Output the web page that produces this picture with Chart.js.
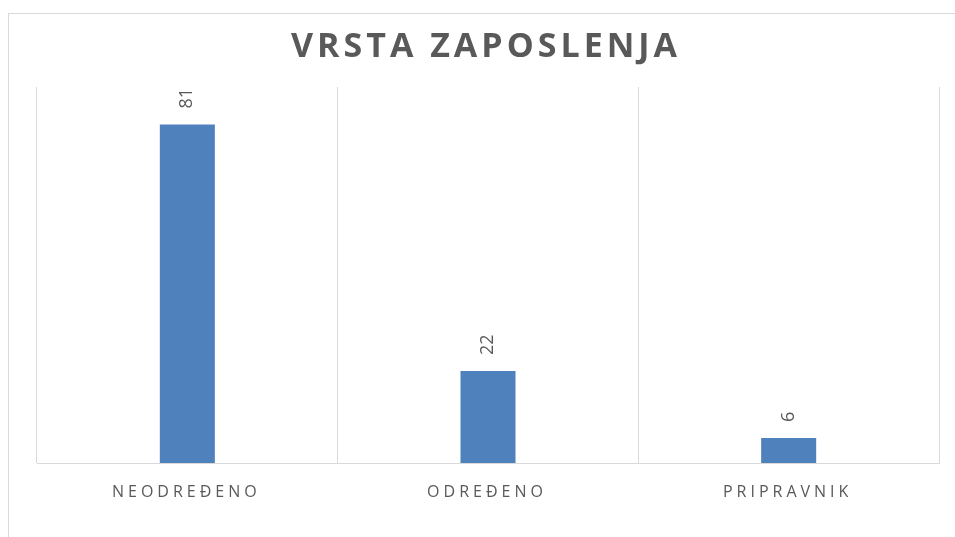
<!DOCTYPE html>
<html>
<head>
<meta charset="utf-8">
<script src="https://cdn.jsdelivr.net/npm/chart.js@4.4.1/dist/chart.umd.min.js"></script>
<style>
  html, body { margin: 0; padding: 0; background: #fff; overflow: hidden; }
  #canvas { display: block; }
</style>
</head>
<body>
<canvas id="canvas" width="955" height="537"></canvas>
<script>
// chart data
const title = "VRSTA ZAPOSLENJA";
const categories = ["NEODREĐENO", "ODREĐENO", "PRIPRAVNIK"];
const counts = [81, 22, 6];
const yMax = 90;

const textGray = "#595959";
const gridGray = "#d9d9d9";

// draws the frame, title, rotated value labels and spaced category labels
const decorations = {
  id: "decorations",
  beforeDraw(chart) {
    const ctx = chart.ctx;
    ctx.save();
    ctx.strokeStyle = gridGray;
    ctx.lineWidth = 1;
    ctx.strokeRect(8.5, 13.5, 1000, 1000);
    ctx.restore();
  },
  afterDatasetsDraw(chart) {
    const ctx = chart.ctx;
    const meta = chart.getDatasetMeta(0);
    const xs = chart.scales.x;

    ctx.save();
    ctx.fillStyle = textGray;

    // title
    ctx.font = "bold 34px 'Open Sans'";
    ctx.letterSpacing = "4px";
    ctx.textAlign = "center";
    ctx.textBaseline = "alphabetic";
    ctx.fillText(title, (chart.chartArea.left + chart.chartArea.right) / 2 - 2, 57);

    // value labels, rotated
    ctx.font = "18px 'Open Sans'";
    ctx.letterSpacing = "0px";
    meta.data.forEach(function (bar, i) {
      ctx.save();
      ctx.translate(bar.x, bar.y - 16);
      ctx.rotate(-Math.PI / 2);
      ctx.textAlign = "left";
      ctx.textBaseline = "middle";
      ctx.fillText(String(counts[i]), 0, 0);
      ctx.restore();
    });

    // category labels
    ctx.font = "16px 'Open Sans'";
    ctx.letterSpacing = "4px";
    ctx.textAlign = "center";
    ctx.textBaseline = "middle";
    categories.forEach(function (c, i) {
      ctx.fillText(c, xs.getPixelForValue(i) - 1, 492);
    });
    ctx.restore();
  }
};

const ctx = document.getElementById("canvas").getContext("2d");
const myChart = new Chart(ctx, {
  type: "bar",
  data: {
    labels: categories,
    datasets: [
      {
        data: counts,
        backgroundColor: "#4f81bd",
        borderWidth: 0,
        categoryPercentage: 1,
        barPercentage: 0.183,
      },
    ],
  },
  options: {
    responsive: false,
    animation: false,
    devicePixelRatio: 1,
    layout: { padding: { left: 37, right: 16, top: 87, bottom: 74 } },
    plugins: {
      legend: { display: false },
      tooltip: { enabled: false },
    },
    scales: {
      x: {
        offset: true,
        grid: { offset: true, color: gridGray, drawTicks: false },
        border: { color: gridGray },
        ticks: { display: false },
      },
      y: {
        display: false,
        min: 0,
        max: yMax,
      },
    },
  },
  plugins: [decorations],
});
</script>
</body>
</html>
